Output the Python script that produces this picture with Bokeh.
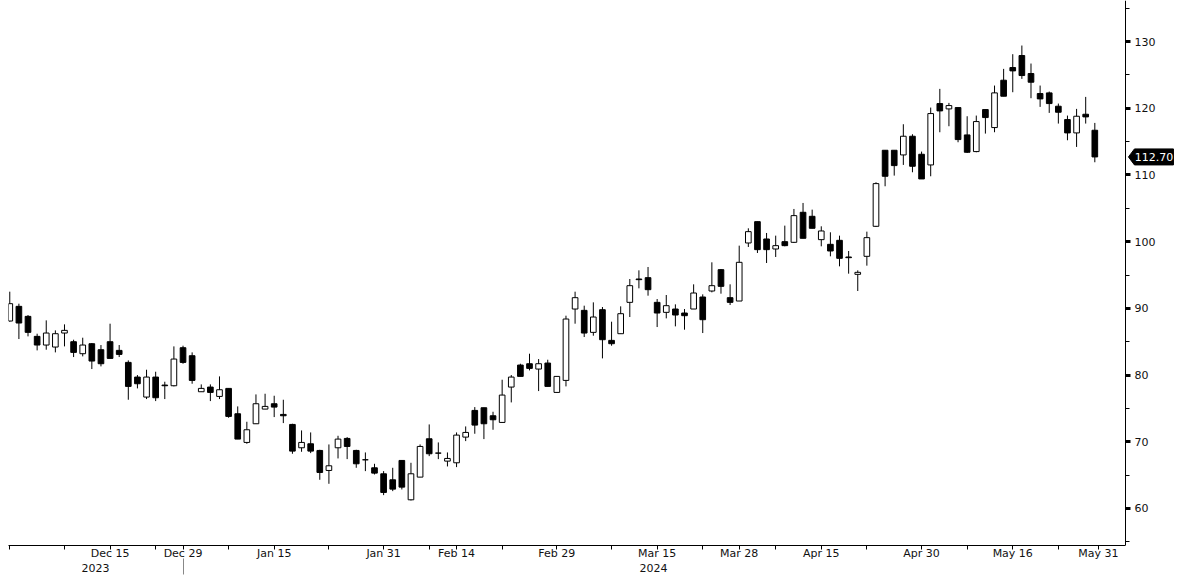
from bokeh.plotting import figure
from bokeh.models import Range1d, FixedTicker, LinearAxis, Label, PolyAnnotation, ColumnDataSource
from bokeh.embed import file_html
from bokeh.resources import INLINE

# ---- data ----
open_ = [88.1, 90.3, 88.8, 85.8, 84.5, 84.2, 86.3, 85.0, 83.2, 84.7,
         83.8, 85.0, 83.7, 81.9, 79.7, 76.7, 79.7, 78.5, 78.4, 84.1,
         82.9, 77.5, 78.2, 76.8, 78.0, 74.2, 69.9, 72.7, 74.9, 75.7,
         74.1, 72.6, 69.1, 69.7, 68.7, 65.7, 69.1, 70.5, 68.7, 67.3,
         66.1, 65.2, 64.3, 67.2, 61.3, 64.7, 70.45, 68.3, 67.1, 66.85,
         70.7, 74.7, 75.1, 73.9, 72.9, 78.2, 81.5, 81.7, 80.9, 81.8,
         77.4, 79.2, 89.9, 89.7, 86.4, 89.8, 85.2, 86.2, 90.9, 94.4,
         94.6, 90.9, 89.4, 89.9, 89.3, 89.9, 91.7, 92.6, 95.8, 91.6,
         91.1, 99.8, 103.0, 100.4, 98.9, 100.0, 99.9, 104.4, 103.8, 100.3,
         99.6, 100.2, 97.7, 95.1, 97.8, 102.3, 113.7, 113.7, 113.0, 115.8,
         113.1, 111.5, 120.7, 119.9, 120.1, 116.0, 113.5, 119.8, 117.1, 124.2,
         126.1, 127.9, 125.2, 122.2, 122.3, 120.3, 118.3, 116.3, 119.1, 116.7]
high = [92.5, 90.7, 89.0, 86.2, 88.2, 86.7, 87.6, 85.3, 85.6, 84.8,
        84.5, 87.7, 84.5, 82.2, 80.0, 80.8, 80.5, 79.0, 84.3, 84.4,
        83.4, 78.6, 78.6, 79.8, 78.0, 75.3, 73.0, 77.1, 77.2, 76.9,
        76.3, 72.7, 71.7, 71.4, 68.8, 69.6, 70.9, 70.7, 68.8, 68.4,
        66.7, 65.6, 66.1, 67.2, 66.85, 69.6, 72.6, 69.9, 68.4, 71.4,
        72.3, 75.2, 75.1, 74.5, 79.3, 80.0, 81.7, 83.2, 82.4, 82.3,
        79.8, 88.9, 92.5, 90.4, 90.9, 90.2, 88.0, 90.3, 94.4, 95.7,
        96.2, 91.4, 92.0, 90.6, 89.9, 93.6, 92.1, 96.9, 95.9, 93.6,
        99.4, 102.0, 103.0, 101.3, 100.9, 102.4, 104.9, 105.8, 104.8, 102.3,
        101.4, 100.9, 98.6, 95.7, 101.5, 108.9, 113.7, 113.7, 117.6, 116.1,
        113.5, 120.1, 122.9, 120.8, 120.1, 118.8, 118.9, 119.8, 123.4, 125.9,
        128.1, 129.4, 126.7, 123.4, 122.5, 120.7, 118.9, 119.9, 121.7, 117.8]
low = [88.0, 85.4, 85.8, 83.7, 83.8, 83.4, 84.3, 82.7, 82.8, 80.9,
       81.3, 82.5, 82.7, 76.3, 78.0, 76.4, 76.1, 76.4, 78.3, 81.7,
       78.7, 77.5, 76.1, 76.4, 73.6, 70.4, 69.7, 72.7, 74.9, 73.7,
       72.8, 68.2, 68.5, 68.3, 64.3, 63.7, 67.5, 67.4, 66.1, 65.6,
       65.1, 62.0, 62.6, 62.85, 61.2, 64.7, 67.85, 67.4, 66.3, 66.2,
       70.1, 71.2, 70.4, 71.8, 72.85, 75.9, 79.8, 80.7, 77.6, 78.3,
       77.35, 78.3, 87.7, 85.7, 85.9, 82.5, 84.4, 86.2, 88.7, 93.0,
       91.9, 87.2, 88.5, 87.3, 86.8, 89.9, 86.3, 92.4, 92.2, 90.5,
       91.1, 99.2, 98.3, 96.8, 97.7, 99.3, 99.8, 100.5, 102.0, 99.3,
       97.8, 96.3, 95.2, 92.6, 96.4, 102.2, 108.3, 109.9, 111.5, 110.4,
       109.4, 109.8, 116.4, 117.3, 114.9, 113.3, 113.4, 116.2, 116.4, 121.8,
       122.4, 124.4, 121.5, 120.2, 119.3, 117.7, 115.2, 114.2, 117.7, 111.9]
close = [90.7, 87.8, 86.4, 84.5, 86.3, 86.2, 86.7, 83.4, 84.5, 82.1,
         81.7, 82.5, 83.1, 78.3, 78.7, 79.7, 76.6, 78.4, 82.4, 81.9,
         79.2, 78.0, 77.4, 77.8, 73.8, 70.4, 71.8, 75.7, 75.3, 75.2,
         73.9, 68.6, 69.9, 68.6, 65.4, 66.4, 70.4, 69.3, 66.7, 67.3,
         65.3, 62.4, 62.9, 63.2, 65.2, 69.3, 68.2, 68.3, 67.5, 71.0,
         71.4, 72.5, 72.7, 73.3, 77.0, 79.7, 79.8, 81.0, 81.7, 78.3,
         79.8, 88.4, 91.6, 86.3, 88.7, 85.3, 84.7, 89.2, 93.4, 94.3,
         92.8, 89.3, 90.4, 89.0, 88.9, 92.3, 88.3, 93.4, 93.3, 90.9,
         96.9, 101.5, 98.8, 98.8, 99.4, 99.4, 103.9, 100.5, 102.0, 101.6,
         98.6, 97.5, 97.6, 95.4, 100.6, 108.7, 109.8, 111.4, 115.8, 111.3,
         109.4, 119.2, 119.6, 120.4, 115.3, 113.4, 118.0, 118.6, 122.3, 121.8,
         125.6, 124.9, 123.9, 121.4, 120.7, 119.4, 116.3, 118.8, 118.7, 112.7]

date_tick_pos = [11, 19, 29, 41, 49, 60, 71, 80, 89, 100, 110, 119.4]
date_tick_labels = ["Dec 15", "Dec 29", "Jan 15", "Jan 31", "Feb 14", "Feb 29",
                    "Mar 15", "Mar 28", "Apr 15", "Apr 30", "May 16", "May 31"]
period_tick_pos = [0, 6, 16, 24, 35, 46, 54, 66, 76, 84, 94, 105, 115]
year_pos = [9.4, 70.6]
year_labels = ["2023", "2024"]
year_break = [19]
y_ticks = [60, 70, 80, 90, 100, 110, 120, 130]
y_minor_ticks = [55, 65, 75, 85, 95, 105, 115, 125, 135]

FONT = "DejaVu Sans"

x = list(range(len(close)))
body_top = [max(o, c) for o, c in zip(open_, close)]
body_bot = [min(o, c) for o, c in zip(open_, close)]
fills = ["white" if c >= o else "black" for o, c in zip(open_, close)]
src = ColumnDataSource(dict(x=x, high=high, low=low, top=body_top, bot=body_bot, fill=fills))

PX = 9.118                      # pixels per trading day
X0 = -0.14                      # left edge of frame
AXIS_X = 122.36                 # where the price axis sits
FRAME_W, FRAME_H = 1176, 545
X1 = X0 + FRAME_W / PX
Y0, Y1 = 54.45, 136.15
PY = FRAME_H / (Y1 - Y0)

p = figure(width=1184, height=583, output_backend="svg", toolbar_location=None,
           x_range=Range1d(X0, X1), y_range=Range1d(Y0, Y1),
           y_axis_location="right", min_border_left=8, min_border_right=0,
           min_border_top=0, min_border_bottom=38, outline_line_color=None,
           background_fill_color="white", border_fill_color="white")
p.grid.visible = False

p.segment(x0="x", y0="low", x1="x", y1="high", source=src, line_color="black", line_width=1)
p.vbar(x="x", width=0.62, top="top", bottom="bot", source=src,
       fill_color="fill", line_color="black", line_width=1)

# bottom date axis
xa = p.xaxis[0]
xa.ticker = FixedTicker(ticks=date_tick_pos, minor_ticks=period_tick_pos)
xa.major_label_overrides = {k: v for k, v in zip(date_tick_pos, date_tick_labels)}
xa.bounds = (X0, AXIS_X)
xa.axis_line_color = "black"
xa.major_tick_in = 0
xa.major_tick_out = 4
xa.minor_tick_in = 0
xa.minor_tick_out = 4
xa.major_tick_line_color = "black"
xa.minor_tick_line_color = "black"
xa.major_label_standoff = -3
xa.major_label_text_font = FONT
xa.major_label_text_font_size = "11px"
xa.major_label_text_color = "#111111"

# year axis
ya2 = LinearAxis(ticker=FixedTicker(ticks=year_pos, minor_ticks=year_break),
                 major_label_overrides={k: v for k, v in zip(year_pos, year_labels)},
                 axis_line_color=None, major_tick_line_color=None,
                 major_tick_in=0, major_tick_out=0,
                 minor_tick_in=4, minor_tick_out=12, minor_tick_line_color="#888888",
                 major_label_standoff=-11,
                 major_label_text_font=FONT, major_label_text_font_size="11px",
                 major_label_text_color="#111111")
p.add_layout(ya2, "below")

# right price axis, pinned inside the frame
yax = p.yaxis[0]
yax.fixed_location = AXIS_X
yax.ticker = FixedTicker(ticks=y_ticks, minor_ticks=y_minor_ticks)
yax.axis_line_color = "black"
yax.major_tick_in = 0
yax.major_tick_out = 5
yax.major_tick_line_width = 3
yax.minor_tick_in = 0
yax.minor_tick_out = 4
yax.major_label_standoff = 4
yax.major_label_text_font = FONT
yax.major_label_text_font_size = "11px"
yax.major_label_text_color = "#111111"

# last price tag
last = close[-1]
tip = AXIS_X + 3 / PX
bl = AXIS_X + 9 / PX
br = AXIS_X + 48 / PX
hh = 8 / PY
p.add_layout(PolyAnnotation(xs=[tip, bl, br, br, bl],
                            ys=[last, last + hh, last + hh, last - hh, last - hh],
                            fill_color="black", fill_alpha=1.0,
                            line_color="black", line_alpha=1.0))
p.add_layout(Label(x=(bl + br) / 2, y=last, text=f"{last:.2f}", text_align="center",
                   text_baseline="middle", text_color="white", text_font=FONT,
                   text_font_size="11px"))

open("out.html", "w").write(file_html(p, INLINE))
